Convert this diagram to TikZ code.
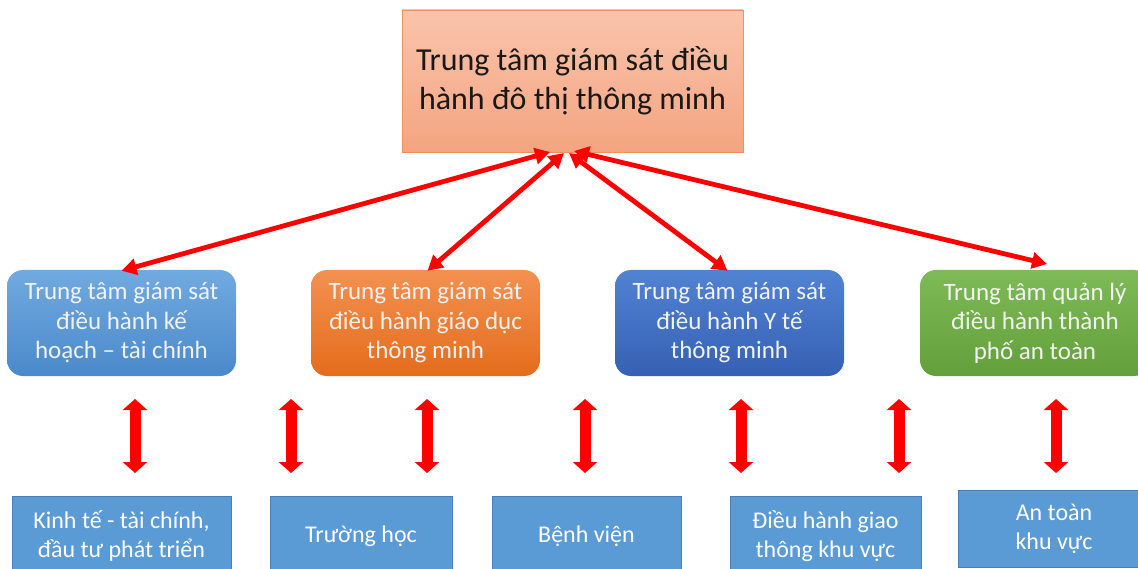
\documentclass[tikz,border=0pt]{standalone}
\usepackage{fontspec}
\setmainfont{Carlito}
\usetikzlibrary{arrows.meta}

\definecolor{redarrow}{HTML}{FF0000}
\definecolor{lightblue}{HTML}{5B9BD5}
\definecolor{lightblueedge}{HTML}{4A7FB5}
\definecolor{hubtop}{HTML}{F9C4AC}
\definecolor{hubbottom}{HTML}{F4A480}
\definecolor{hubedge}{HTML}{F0905E}
\definecolor{plantop}{HTML}{71AAE0}
\definecolor{planbottom}{HTML}{4A89CA}
\definecolor{edutop}{HTML}{F39150}
\definecolor{edubottom}{HTML}{E46C1C}
\definecolor{healthtop}{HTML}{5183D3}
\definecolor{healthbottom}{HTML}{3660B3}
\definecolor{safetop}{HTML}{7EBA57}
\definecolor{safebottom}{HTML}{62A03A}

\tikzset{
  hubbox/.style={draw=hubedge, line width=0.8pt,
    top color=hubtop, bottom color=hubbottom,
    minimum width=341pt, minimum height=142pt, inner sep=0pt, align=center,
    font=\fontsize{32}{39}\selectfont, text=black!90},
  centrebox/.style={rounded corners=16pt, draw=none,
    minimum width=229pt, minimum height=106pt, inner sep=0pt, align=center,
    font=\fontsize{25}{29.5}\selectfont, text=white!95!black},
  leafbox/.style={draw=lightblueedge, line width=0.6pt, fill=lightblue,
    minimum height=80pt, inner sep=0pt, align=center,
    font=\fontsize{24}{29.5}\selectfont, text=white},
  linkarrow/.style={draw=redarrow, line width=4.8pt,
    {Triangle[length=15pt,width=16pt]}-{Triangle[length=15pt,width=16pt]}},
  updown/.style={draw=redarrow, line width=11pt,
    {Triangle[length=11pt,width=24pt]}-{Triangle[length=11pt,width=24pt]}},
}

\begin{document}
\begin{tikzpicture}[x=1pt,y=-1pt]
  \useasboundingbox (0,0) rectangle (1138,569);
  \clip (0,0) rectangle (1138,569);
  \fill[white] (0,0) rectangle (1138,569);

  % central monitoring hub
  \node[hubbox] (hub) at (572.5,81) {Trung tâm giám sát điều\\hành đô thị thông minh};

  % second-level centres
  \node[centrebox, top color=plantop, bottom color=planbottom]
    (c1) at (121.5,323) {Trung tâm giám sát\\điều hành kế\\hoạch – tài chính};
  \node[centrebox, top color=edutop, bottom color=edubottom]
    (c2) at (425.5,323) {Trung tâm giám sát\\điều hành giáo dục\\thông minh};
  \node[centrebox, top color=healthtop, bottom color=healthbottom]
    (c3) at (729.5,323) {Trung tâm giám sát\\điều hành Y tế\\thông minh};
  \node[centrebox, minimum width=230pt, top color=safetop, bottom color=safebottom]
    (c4) at (1035,323) {Trung tâm quản lý\\điều hành thành\\phố an toàn};

  % field units
  \node[leafbox, minimum width=219pt] (u1) at (121.5,536) {Kinh tế - tài chính,\\đầu tư phát triển};
  \node[leafbox, minimum width=182pt] (u2) at (361,536) {Trường học};
  \node[leafbox, minimum width=189pt] (u3) at (586.5,536) {Bệnh viện};
  \node[leafbox, minimum width=191pt] (u4) at (825.5,536) {Điều hành giao\\thông khu vực};
  \node[leafbox, minimum width=192pt, minimum height=77pt] (u5) at (1054,529) {An toàn\\khu vực};

  % arrow ends under the hub and above the centres
  \coordinate (h1) at (550,152);
  \coordinate (h2) at (564,153);
  \coordinate (h3) at (569,153);
  \coordinate (h4) at (574,151);
  \coordinate (a4) at (1047,264);

  \draw[linkarrow] (h1) -- ([yshift=-1pt]c1.north);
  \draw[linkarrow] (h2) -- ([xshift=2pt,yshift=-1pt]c2.north);
  \draw[linkarrow] (h3) -- ([xshift=-2pt,yshift=-1pt]c3.north);
  \draw[linkarrow] (h4) -- (a4);

  % vertical two-way links
  \foreach \i/\x in {1/135, 2/291, 3/427, 4/585, 5/741, 6/899, 7/1056} {
    \coordinate (v\i t) at (\x,399);
    \coordinate (v\i b) at (\x,473);
    \draw[updown] (v\i t) -- (v\i b);
  }
\end{tikzpicture}
\end{document}
